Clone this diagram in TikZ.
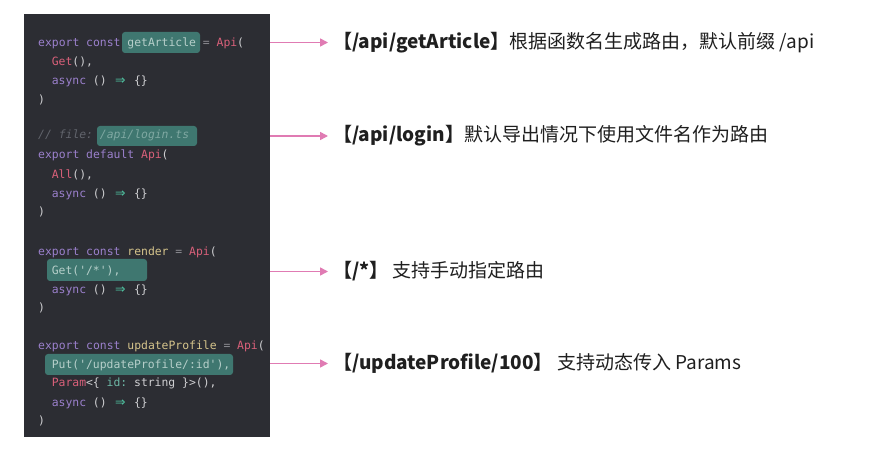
\documentclass[tikz,border=0pt]{standalone}
\usepackage{fontspec}
\setmonofont{DejaVu Sans Mono}
\newfontfamily\cjk{Noto Sans CJK SC}
\newfontfamily\arrowfont{DejaVu Sans}
\usetikzlibrary{arrows.meta}

\definecolor{panelbg}{HTML}{2C2D33}
\definecolor{hlteal}{HTML}{3F7770}
\definecolor{kwpurple}{HTML}{9B80CC}
\definecolor{fnred}{HTML}{D9607A}
\definecolor{idyellow}{HTML}{D6C58C}
\definecolor{plaingray}{HTML}{CFCFD2}
\definecolor{opgray}{HTML}{8C8C92}
\definecolor{arrgreen}{HTML}{4FC1A0}
\definecolor{cmgray}{HTML}{62656D}
\definecolor{hltext}{HTML}{B6CFCA}
\definecolor{hlcomment}{HTML}{7FA8A2}
\definecolor{idgreen}{HTML}{6DB8A6}
\definecolor{pointerpink}{HTML}{E07BB3}
\definecolor{notetext}{HTML}{1F1F1F}

\newcommand\cdkw[1]{\textcolor{kwpurple}{#1}}
\newcommand\cdfn[1]{\textcolor{fnred}{#1}}
\newcommand\cdid[1]{\textcolor{idyellow}{#1}}
\newcommand\cdop[1]{\textcolor{opgray}{#1}}
\newcommand\cdhl[1]{\textcolor{hltext}{#1}}
\newcommand\cdarr{\makebox[13.6bp][c]{\arrowfont\fontsize{12.5bp}{14bp}\selectfont\textcolor{arrgreen}{⇒}}}

\begin{document}
\begin{tikzpicture}[
  x=1bp, y=-1bp,
  code/.style={anchor=base west, inner sep=0pt, font=\ttfamily\fontsize{11.4bp}{14bp}\selectfont, text=plaingray},
  hlbox/.style={fill=hlteal, rounded corners=3bp},
  note/.style={anchor=west, inner sep=0pt, font=\cjk\fontsize{19bp}{22bp}\selectfont, text=notetext},
  pointer/.style={draw=pointerpink, line width=1.6bp, -{Triangle[length=8bp,width=8bp]}, shorten >=5bp},
]
  \useasboundingbox (0,0) rectangle (880,455);
  \fill[white] (0,0) rectangle (880,455);
  % dark code panel
  \fill[panelbg] (24,14) rectangle (270,437);

  % highlights
  \fill[hlbox] (122,32) rectangle (200,53);
  \fill[hlbox] (97,126) rectangle (197,146);
  \fill[hlbox] (47,259) rectangle (147,281);
  \fill[hlbox] (45,354) rectangle (233,375);

  % block 1
  \node[code] (c11) at (38,46.5) {\cdkw{export const} \cdhl{getArticle} \cdop{=} \cdfn{Api}(};
  \node[code] (c12) at (51.6,65.5) {\cdfn{Get}(),};
  \node[code] (c13) at (51.6,84.5) {\cdkw{async} () \cdarr{} \{\}};
  \node[code] (c14) at (38,103.5) {)};

  % block 2
  \node[code] (c21) at (38,139) {\itshape\textcolor{cmgray}{// file:} \textcolor{hlcomment}{/api/login.ts}};
  \node[code] (c22) at (38,159) {\cdkw{export default} \cdfn{Api}(};
  \node[code] (c23) at (51.6,178.5) {\cdfn{All}(),};
  \node[code] (c24) at (51.6,197.5) {\cdkw{async} () \cdarr{} \{\}};
  \node[code] (c25) at (38,216) {)};

  % block 3
  \node[code] (c31) at (38,255.5) {\cdkw{export const} \cdid{render} \cdop{=} \cdfn{Api}(};
  \node[code] (c32) at (51.6,274.5) {\cdhl{Get('/*'),}};
  \node[code] (c33) at (51.6,294) {\cdkw{async} () \cdarr{} \{\}};
  \node[code] (c34) at (38,312) {)};

  % block 4
  \node[code] (c41) at (38,350) {\cdkw{export const} \cdid{updateProfile} \cdop{=} \cdfn{Api}(};
  \node[code] (c42) at (51.6,369) {\cdhl{Put('/updateProfile/:id'),}};
  \node[code] (c43) at (51.6,387) {\cdfn{Param}<\{ \textcolor{idgreen}{id:} string \}>(),};
  \node[code] (c44) at (51.6,406) {\cdkw{async} () \cdarr{} \{\}};
  \node[code] (c45) at (38,424.5) {)};

  % notes on the right
  \coordinate (a1) at (270,42.5);
  \coordinate (a2) at (270,136);
  \coordinate (a3) at (270,271.5);
  \coordinate (a4) at (270,363.5);
  \node[note] (t1) at (333,42.5) {\textbf{【/api/getArticle】}根据函数名生成路由，默认前缀 /api};
  \node[note] (t2) at (333,136) {\textbf{【/api/login】}默认导出情况下使用文件名作为路由};
  \node[note] (t3) at (333,271.5) {\textbf{【/*】} 支持手动指定路由};
  \node[note] (t4) at (333,363.5) {\textbf{【/updateProfile/100】} 支持动态传入 Params};
  \draw[pointer] (a1) -- (t1.west);
  \draw[pointer] (a2) -- (t2.west);
  \draw[pointer] (a3) -- (t3.west);
  \draw[pointer] (a4) -- (t4.west);
\end{tikzpicture}
\end{document}
